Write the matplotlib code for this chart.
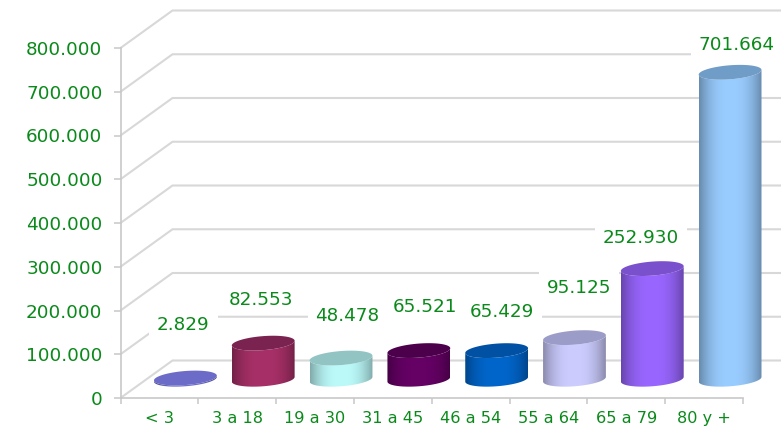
import numpy as np
import matplotlib
matplotlib.use("Agg")
import matplotlib.pyplot as plt
from matplotlib.patches import Polygon
from matplotlib.colors import to_rgb
from matplotlib.ticker import FuncFormatter

categories = ["< 3", "3 a 18", "19 a 30", "31 a 45", "46 a 54", "55 a 64", "65 a 79", "80 y +"]
values = [2829, 82553, 48478, 65521, 65429, 95125, 252930, 701664]
labels = ["2.829", "82.553", "48.478", "65.521", "65.429", "95.125", "252.930", "701.664"]
y_ticks = [0, 100000, 200000, 300000, 400000, 500000, 600000, 700000, 800000]

# styling
side_colors = ["#7070cc", "#a83068", "#bcfafa", "#660066", "#0066cc", "#ccccff", "#9966ff", "#99ccff"]
top_colors = ["#6c6cc8", "#7a2350", "#93c4c4", "#4c004c", "#0050a4", "#9c9cc8", "#7a50cc", "#709cc8"]
label_offsets_px = [(-2, 53), (-2, 43), (6.5, 42), (6.5, 43.6), (5.5, 38.6), (4.5, 49.6), (-11.5, 30.6), (6.5, 27.3)]
label_pads = [0.43, 0.3, 0.43, 0.43, 0.43, 0.43, 0.43, 0.43]
GREEN = "#0a8a1a"
GRID = "#d8d8d8"
AXIS = "#c8c8c8"

W, H = 781, 430
fig = plt.figure(figsize=(W / 100, H / 100), dpi=100, facecolor="white")
X0, X1, Y0, Y1 = 120.5, 743.0, 398.0, 48.0
ax = fig.add_axes([X0 / W, (H - Y0) / H, (X1 - X0) / W, (Y0 - Y1) / H])
ax.set_facecolor("none")
XMAX, YMAX = len(categories), 800000
PX = XMAX / (X1 - X0)
PY = YMAX / (Y0 - Y1)
DEPTH_X, DEPTH_Y = 52 * PX, 37.5 * PY

for v in y_ticks:
    ax.plot([0, DEPTH_X, XMAX + DEPTH_X], [v, v + DEPTH_Y, v + DEPTH_Y], color=GRID,
            lw=1.5, clip_on=False, zorder=1, solid_capstyle="butt")


def ell(cx, cy, t, a=31.5, b=7.0, th=np.radians(4.5)):
    ex = a * np.cos(t) * np.cos(th) - b * np.sin(t) * np.sin(th)
    ey = a * np.cos(t) * np.sin(th) + b * np.sin(t) * np.cos(th)
    return np.column_stack([cx + ex * PX, cy + ey * PY])


t0 = np.arctan2(-7.0 * np.sin(np.radians(4.5)), 31.5 * np.cos(np.radians(4.5)))
lower = np.linspace(t0, t0 - np.pi, 60)
s = np.linspace(-1, 1, 256)
shade = 0.68 + 0.32 * np.clip(1 - np.abs(s) ** 2.6, 0, 1) ** 1.1

for i, v in enumerate(values):
    cx = i + 0.5 + DEPTH_X / 2
    cy = DEPTH_Y / 2
    base = ell(cx, cy, lower)
    top = ell(cx, cy + v, lower[::-1])
    body = Polygon(np.vstack([base, top]), closed=True, transform=ax.transData)
    rgb = np.array(to_rgb(side_colors[i]))
    grad = (shade[None, :, None] * rgb[None, None, :])
    hw = 31.5 * PX
    im = ax.imshow(grad, extent=[cx - hw, cx + hw, -YMAX, 2 * YMAX], aspect="auto",
                   zorder=2, interpolation="bilinear")
    im.set_clip_box(fig.bbox)
    im.set_clip_path(body)
    ax.add_patch(Polygon(ell(cx, cy + v, np.linspace(0, 2 * np.pi, 120)), closed=True,
                         facecolor=top_colors[i], edgecolor="none", zorder=3, clip_on=False))
    dx, dy = label_offsets_px[i]
    ax.annotate(labels[i], xy=(cx, cy + v), xytext=(dx, dy), textcoords="offset pixels",
                ha="center", va="center", color=GREEN, fontsize=13.2, family="DejaVu Sans",
                annotation_clip=False, zorder=5,
                bbox=dict(facecolor="white", edgecolor="none", boxstyle=f"square,pad={label_pads[i]}"))

ax.set_xlim(0, XMAX)
ax.set_ylim(0, YMAX)
for side in ("top", "right"):
    ax.spines[side].set_visible(False)
for side in ("left", "bottom"):
    ax.spines[side].set_color(AXIS)
    ax.spines[side].set_linewidth(1.2)
    ax.spines[side].set_zorder(1.5)

ax.set_yticks(y_ticks)
ax.yaxis.set_major_formatter(FuncFormatter(lambda v, _: "0" if v == 0 else f"{int(v):,}".replace(",", ".")))
ax.tick_params(axis="y", length=5, width=1.1, color=AXIS, pad=8, labelsize=13.2, labelcolor=GREEN)
ax.set_xticks(np.arange(XMAX + 1))
ax.set_xticklabels([])
ax.set_xticks(np.arange(XMAX) + 0.5, minor=True)
ax.set_xticklabels(categories, minor=True)
ax.tick_params(axis="x", which="major", length=4, width=1.1, color=AXIS)
ax.tick_params(axis="x", which="minor", length=0, pad=9.5, labelsize=11.6, labelcolor=GREEN)

fig.savefig("out.png", dpi=100, facecolor="white")
